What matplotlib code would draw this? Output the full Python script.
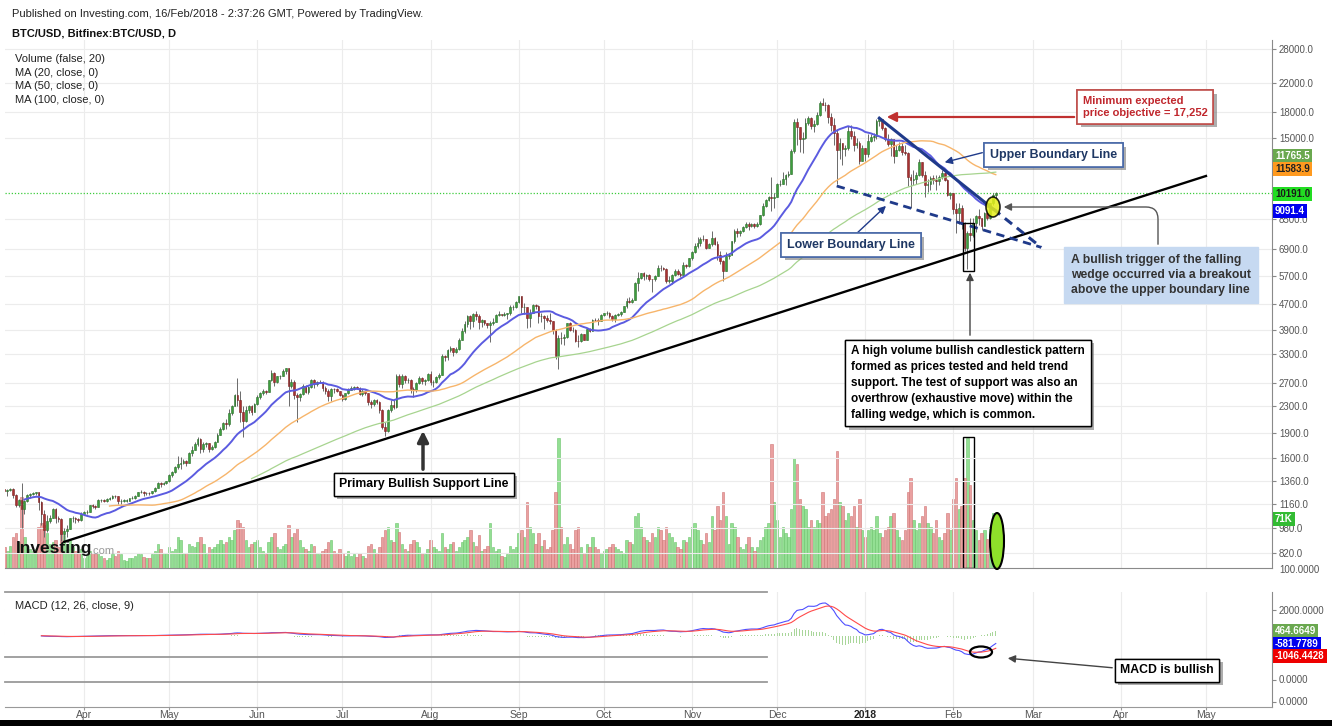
import numpy as np
import pandas as pd
import matplotlib
matplotlib.use('Agg')
import matplotlib.pyplot as plt
import matplotlib.dates as mdates
import matplotlib.patheffects as pe
from matplotlib.patches import Ellipse, Rectangle
from matplotlib.lines import Line2D

plt.rcParams['font.family'] = ['Liberation Sans', 'DejaVu Sans']

W, H = 1332, 726

# ---- daily BTC/USD (Bitfinex) ----
dates = pd.date_range('2017-02-20', '2018-02-16', freq='D')
first_open = 1050

close = [
    1080, 1125, 1120, 1180, 1170, 1150, 1175, 1190, 1188,  # Feb 20-28
    1225, 1285, 1285, 1265, 1275, 1280, 1230, 1150, 1190, 1115, 1180, 1230, 1240, 1245, 1255, 1170, 1075, 965, 1025, 1050, 1120, 1045, 1040, 935, 960, 970, 1045, 1045, 1040, 1035, 1080,
    1090, 1095, 1145, 1140, 1135, 1190, 1190, 1180, 1200, 1205, 1225, 1220, 1180, 1185, 1185, 1185, 1205, 1210, 1225, 1255, 1260, 1245, 1250, 1245, 1265, 1295, 1335, 1330, 1340, 1355,
    1420, 1450, 1500, 1530, 1540, 1560, 1540, 1650, 1690, 1760, 1820, 1700, 1760, 1770, 1700, 1720, 1790, 1880, 1950, 2040, 2020, 2180, 2300, 2480, 2400, 2200, 2070, 2240, 2300, 2210, 2330,
    2450, 2520, 2550, 2540, 2750, 2900, 2720, 2830, 2830, 2930, 2990, 2650, 2720, 2480, 2450, 2500, 2650, 2530, 2620, 2750, 2680, 2710, 2720, 2600, 2550, 2460, 2590, 2580, 2550, 2480,
    2420, 2510, 2570, 2610, 2620, 2610, 2500, 2560, 2510, 2370, 2330, 2400, 2360, 2230, 1980, 1930, 2230, 2320, 2280, 2840, 2680, 2830, 2760, 2760, 2580, 2570, 2700, 2800, 2730, 2760, 2880,
    2720, 2720, 2810, 2860, 3250, 3230, 3400, 3450, 3350, 3420, 3660, 3880, 4080, 4320, 4180, 4390, 4300, 4150, 4200, 4120, 4050, 4120, 4150, 4360, 4380, 4360, 4380, 4400, 4600, 4600, 4750,
    4950, 4600, 4600, 4250, 4420, 4650, 4640, 4320, 4320, 4250, 4200, 4160, 3900, 3250, 3700, 3690, 3720, 4100, 3920, 3900, 3630, 3620, 3800, 3660, 3930, 3890, 4210, 4200, 4180, 4350,
    4400, 4420, 4320, 4240, 4350, 4370, 4450, 4620, 4780, 4770, 4840, 5450, 5650, 5830, 5700, 5770, 5600, 5580, 5720, 6050, 6030, 6010, 5530, 5530, 5750, 5900, 5780, 5760, 6170, 6140, 6460,
    6750, 7060, 7170, 7410, 7380, 6960, 7130, 7460, 7140, 6600, 6350, 5900, 6550, 6600, 7300, 7830, 7710, 7800, 8050, 8240, 8100, 8240, 8100, 8230, 8750, 9300, 9750, 9900, 9850, 9950,
    10850, 10900, 11250, 11600, 11700, 13700, 16850, 16250, 14900, 15000, 16700, 17300, 16350, 16600, 17600, 19200, 18950, 18900, 17400, 16500, 15600, 13800, 14450, 13900, 14000, 15800, 15200, 14300, 14500, 12800, 14000,
    13400, 14750, 15150, 15200, 16900, 17150, 16150, 14900, 14400, 14900, 13250, 13850, 14200, 13600, 13500, 11400, 11150, 11250, 11550, 12700, 11550, 10800, 10850, 11350, 11200, 11100, 11400, 11750, 11200, 10100, 10200,
    9100, 8850, 9200, 8200, 6950, 7700, 7600, 8250, 8700, 8550, 8100, 8900, 8550, 9500, 10050, 10191,
]
high = [
    1090, 1130, 1135, 1195, 1210, 1180, 1180, 1200, 1210,
    1230, 1290, 1295, 1290, 1280, 1295, 1290, 1240, 1200, 1335, 1190, 1240, 1250, 1255, 1260, 1260, 1180, 1110, 1070, 1070, 1125, 1125, 1065, 1045, 980, 1000, 1050, 1065, 1055, 1050, 1090,
    1100, 1105, 1150, 1160, 1145, 1200, 1200, 1195, 1210, 1215, 1230, 1230, 1225, 1195, 1195, 1195, 1210, 1220, 1235, 1260, 1275, 1265, 1260, 1255, 1270, 1300, 1345, 1350, 1350, 1360,
    1430, 1460, 1510, 1620, 1610, 1580, 1570, 1660, 1730, 1780, 1850, 1830, 1780, 1790, 1775, 1750, 1800, 1900, 1980, 2060, 2100, 2250, 2320, 2500, 2800, 2550, 2300, 2300, 2320, 2320, 2350,
    2480, 2530, 2580, 2570, 2760, 2950, 2920, 2840, 2850, 2970, 3000, 2990, 2770, 2760, 2520, 2520, 2680, 2670, 2640, 2780, 2780, 2740, 2760, 2730, 2640, 2580, 2610, 2610, 2600, 2560,
    2500, 2520, 2600, 2640, 2640, 2640, 2620, 2580, 2570, 2520, 2400, 2420, 2420, 2380, 2250, 2060, 2250, 2400, 2400, 2880, 2880, 2870, 2860, 2800, 2780, 2620, 2720, 2830, 2820, 2780, 2900,
    2930, 2760, 2830, 2890, 3300, 3280, 3420, 3500, 3460, 3480, 3700, 3960, 4180, 4340, 4350, 4420, 4480, 4370, 4220, 4200, 4120, 4160, 4260, 4380, 4470, 4390, 4440, 4420, 4650, 4650, 4780,
    4980, 4960, 4730, 4600, 4530, 4700, 4690, 4660, 4400, 4350, 4350, 4400, 4160, 3950, 3770, 3870, 3800, 4120, 4130, 3990, 3930, 3780, 3830, 3800, 3980, 3980, 4230, 4260, 4250, 4370,
    4410, 4470, 4450, 4350, 4380, 4420, 4470, 4630, 4880, 4920, 4880, 5460, 5880, 5850, 5860, 5800, 5780, 5600, 5750, 6180, 6160, 6080, 6060, 5700, 5800, 5980, 6000, 5880, 6300, 6210, 6480,
    6800, 7200, 7480, 7500, 7600, 7410, 7200, 7800, 7500, 7320, 6800, 6400, 6750, 6720, 7320, 7960, 8000, 7900, 8100, 8320, 8350, 8300, 8260, 8350, 8760, 9500, 9800, 9990, 11400, 10200,
    10950, 11200, 11850, 11650, 11900, 13900, 17200, 17300, 16200, 15700, 17300, 17550, 17400, 17000, 18000, 19500, 19890, 19300, 19100, 17900, 17300, 15950, 15000, 14500, 14300, 16300, 16500, 15800, 15000, 14700, 14300,
    14000, 15400, 15450, 15500, 17200, 17252, 17150, 16200, 15400, 15000, 14900, 14300, 14600, 14500, 14300, 13600, 11700, 12000, 11800, 13000, 12700, 11900, 11300, 11500, 11600, 11600, 11600, 12000, 11850, 11300, 10300,
    10200, 9550, 9500, 9400, 8350, 7850, 8600, 8600, 8760, 9150, 8600, 8970, 8950, 9550, 10200, 10260,
]
low = [
    1040, 1075, 1100, 1120, 1100, 1110, 1130, 1165, 1170,
    1185, 1220, 1250, 1250, 1225, 1265, 1210, 1130, 1130, 980, 1080, 1170, 1210, 1230, 1235, 1110, 1000, 920, 950, 1015, 1045, 1015, 1020, 890, 890, 915, 970, 1020, 1015, 1020, 1030,
    1070, 1075, 1090, 1125, 1115, 1130, 1175, 1170, 1175, 1190, 1200, 1205, 1160, 1160, 1170, 1170, 1180, 1195, 1200, 1220, 1245, 1225, 1235, 1235, 1240, 1260, 1290, 1305, 1325, 1330,
    1350, 1400, 1440, 1480, 1480, 1530, 1510, 1545, 1620, 1690, 1740, 1650, 1660, 1720, 1660, 1690, 1710, 1780, 1870, 1940, 1960, 2000, 2150, 2300, 2300, 2050, 1850, 2050, 2190, 2150, 2200,
    2320, 2420, 2480, 2500, 2540, 2740, 2650, 2700, 2770, 2830, 2880, 2300, 2600, 2420, 2050, 2380, 2480, 2510, 2500, 2600, 2610, 2640, 2690, 2560, 2500, 2380, 2380, 2520, 2530, 2460,
    2380, 2400, 2500, 2580, 2570, 2580, 2480, 2470, 2480, 2320, 2260, 2300, 2330, 2180, 1960, 1860, 1920, 2200, 2250, 2270, 2620, 2600, 2690, 2700, 2520, 2450, 2530, 2680, 2680, 2660, 2740,
    2670, 2630, 2690, 2770, 2850, 3150, 3180, 3350, 3250, 3320, 3400, 3640, 3820, 4000, 3940, 4000, 4200, 3950, 4000, 4050, 3980, 3600, 4050, 4130, 4300, 4300, 4330, 4240, 4350, 4500, 4560,
    4720, 4420, 4380, 3980, 4000, 4400, 4520, 4100, 4150, 3950, 4150, 4080, 3800, 3200, 2980, 3550, 3520, 3700, 3880, 3860, 3600, 3480, 3600, 3650, 3660, 3860, 3880, 4160, 4050, 4160,
    4300, 4360, 4250, 4170, 4150, 4310, 4330, 4430, 4570, 4730, 4720, 4820, 5150, 5580, 5550, 5600, 5520, 5100, 5500, 5700, 5900, 5950, 5450, 5420, 5400, 5720, 5740, 5690, 5750, 6050, 6100,
    6380, 6700, 6930, 7030, 7280, 6920, 6930, 7040, 7100, 6400, 6210, 5500, 5900, 6450, 6600, 7170, 7500, 7550, 7750, 7990, 7900, 8050, 8000, 8030, 8150, 8700, 9280, 9650, 9000, 9200,
    9900, 10700, 10950, 10800, 11400, 11700, 13500, 14300, 13600, 13500, 14900, 16400, 16000, 15700, 16500, 17500, 18900, 18100, 16700, 15800, 14300, 10900, 13000, 12400, 13200, 13800, 14900, 13700, 14000, 12500, 12800,
    12800, 13150, 14600, 14650, 14950, 16300, 15900, 14700, 14200, 13200, 12600, 13200, 13750, 13300, 13300, 10700, 9200, 10800, 10900, 11500, 11400, 9950, 10300, 10400, 10900, 10400, 10800, 11300, 11100, 9980, 9800,
    8800, 7700, 8200, 7950, 6800, 6000, 7300, 7500, 7790, 8170, 7900, 8100, 8450, 8500, 9400, 9700,
]
volume_k = [
    25, 30, 28, 35, 40, 30, 22, 25, 28,
    40, 42, 48, 30, 25, 32, 45, 50, 38, 103, 45, 30, 28, 25, 28, 60, 65, 62, 50, 35, 38, 40, 30, 55, 48, 35, 40, 30, 25, 22, 28,
    15, 18, 25, 22, 20, 22, 18, 14, 12, 15, 20, 17, 25, 20, 12, 10, 14, 15, 18, 22, 20, 16, 14, 15, 20, 25, 35, 28, 22, 20,
    30, 25, 28, 45, 40, 20, 22, 35, 32, 30, 38, 45, 35, 20, 30, 28, 30, 35, 40, 35, 38, 45, 40, 55, 70, 65, 60, 40, 30, 35, 38,
    40, 30, 25, 20, 38, 45, 50, 30, 28, 32, 35, 62, 45, 50, 58, 40, 30, 28, 25, 35, 32, 22, 20, 25, 28, 38, 40, 25, 22, 28,
    22, 18, 25, 18, 20, 16, 22, 18, 15, 32, 35, 28, 22, 30, 45, 55, 60, 40, 38, 65, 52, 35, 28, 25, 35, 40, 38, 30, 22, 20, 28,
    40, 30, 28, 25, 50, 30, 28, 35, 38, 25, 30, 38, 40, 45, 55, 38, 32, 48, 25, 28, 32, 65, 30, 25, 28, 18, 16, 20, 32, 28, 30,
    50, 55, 45, 95, 60, 50, 35, 50, 32, 40, 28, 30, 55, 110, 188, 60, 35, 45, 35, 28, 55, 60, 30, 22, 35, 30, 45, 30, 28, 22,
    25, 28, 30, 35, 30, 28, 25, 22, 40, 38, 35, 75, 80, 60, 45, 40, 38, 50, 45, 60, 55, 40, 60, 50, 45, 38, 30, 28, 40, 38, 45,
    60, 65, 55, 40, 35, 50, 38, 75, 55, 90, 70, 110, 75, 35, 65, 60, 45, 30, 28, 35, 45, 30, 25, 30, 40, 45, 60, 65, 180, 95,
    70, 45, 60, 50, 45, 85, 160, 150, 100, 90, 85, 60, 70, 60, 70, 65, 110, 75, 80, 85, 100, 170, 95, 90, 70, 80, 75, 90, 60, 100, 55,
    45, 55, 60, 55, 75, 50, 45, 55, 60, 75, 80, 55, 45, 40, 55, 110, 130, 70, 55, 65, 75, 90, 65, 60, 50, 70, 45, 40, 50, 80, 55,
    100, 130, 85, 90, 130, 188, 120, 70, 55, 40, 50, 55, 42, 60, 80, 71,
]

price_ticks = [28000, 22000, 18000, 15000, 8500, 6900, 5700, 4700, 3900, 3300,
               2700, 2300, 1900, 1600, 1360, 1160, 980, 820]
month_ticks = ['2017-04-01', '2017-05-01', '2017-06-01', '2017-07-01', '2017-08-01',
               '2017-09-01', '2017-10-01', '2017-11-01', '2017-12-01', '2018-01-01',
               '2018-02-01', '2018-03-01', '2018-04-01', '2018-05-01']
month_labels = ['Apr', 'May', 'Jun', 'Jul', 'Aug', 'Sep', 'Oct', 'Nov', 'Dec', '2018',
                'Feb', 'Mar', 'Apr', 'May']

# ---- derived series ----
c = np.array(close, float)
o = np.r_[first_open, c[:-1]]
hi = np.maximum(np.array(high, float), np.maximum(o, c))
lo = np.minimum(np.array(low, float), np.minimum(o, c))
vol = np.array(volume_k, float)
up = c >= o

s = pd.Series(c, index=dates)
ma20 = s.rolling(20).mean()
ma50 = s.rolling(50).mean()
ma100 = s.rolling(100).mean()
macd = s.ewm(span=12, adjust=False).mean() - s.ewm(span=26, adjust=False).mean()
signal = macd.ewm(span=9, adjust=False).mean()
hist = macd - signal
macd[:25] = np.nan
signal[:25] = np.nan
hist[:25] = np.nan


def P(x, y):
    return (x / W, 1 - y / H)


fig = plt.figure(figsize=(W / 100, H / 100), dpi=100)
fig.patch.set_facecolor('white')

rect_main = [5 / W, 1 - 568 / H, 1267 / W, 528 / H]
ax_v = fig.add_axes(rect_main)
ax = fig.add_axes(rect_main, sharex=ax_v)
ax_m = fig.add_axes([5 / W, 1 - 707 / H, 1267 / W, 115 / H], sharex=ax_v)
ax.patch.set_alpha(0)

x0 = pd.Timestamp('2017-03-04 04:30')
x1 = pd.Timestamp('2018-05-24 06:00')

# volume (back layer)
ax_v.bar(dates[up], vol[up], width=0.85, color='#93df93', edgecolor='#6cc36c', linewidth=0.4)
ax_v.bar(dates[~up], vol[~up], width=0.85, color='#eaa0a0', edgecolor='#cf7474', linewidth=0.4)
ax_v.set_ylim(0, 765)
ax_v.set_xlim(x0, x1)
ax_v.axis('off')

# candles
ax.vlines(dates, lo, hi, color='#6a6a6a', lw=0.7, zorder=3)
body_lo = np.minimum(o, c)
body_h = np.maximum(np.abs(c - o), c * 0.002)
ax.bar(dates[up], body_h[up], bottom=body_lo[up], width=0.62, color='#3d9e3d', edgecolor='#2c6e2c', linewidth=0.4, zorder=4)
ax.bar(dates[~up], body_h[~up], bottom=body_lo[~up], width=0.62, color='#a83232', edgecolor='#7a2020', linewidth=0.4, zorder=4)

ax.plot(dates, ma20, color='#5b5be0', lw=1.4, zorder=5)
ax.plot(dates, ma50, color='#f7b56b', lw=1.0, zorder=5)
ax.plot(dates, ma100, color='#a7d48f', lw=0.9, zorder=5)
ax.axhline(close[-1], color='#3ccc3c', lw=0.9, ls=(0, (1, 1.5)), zorder=2)

ax.set_yscale('log')
ax.set_ylim(738.6, 29823)
ax.set_xlim(x0, x1)
ax.yaxis.tick_right()
ax.set_yticks(price_ticks)
ax.set_yticklabels([f'{t:.1f}' for t in price_ticks])
ax.yaxis.set_minor_locator(matplotlib.ticker.NullLocator())
ax.tick_params(axis='y', labelsize=7, labelcolor='#555555', color='#888888', length=3, width=0.8, pad=2)
ax.tick_params(axis='x', length=0, labelbottom=False)
ax.set_xticks(pd.to_datetime(month_ticks))
ax.grid(True, color='#ececec', lw=0.8, zorder=0)
for sp in ['top', 'left']:
    ax.spines[sp].set_visible(False)
ax.spines['right'].set_color('#8a8a8a')
ax.spines['bottom'].set_color('#8a8a8a')

# support & wedge lines
ax.plot(pd.to_datetime(['2017-03-25', '2018-05-01']), [887, 11505], color='black', lw=1.7, zorder=6)
d_up = mdates.date2num(pd.to_datetime(['2018-01-06', '2018-03-04']))
p_up = [17252, 6980]
d_brk = mdates.date2num(pd.Timestamp('2018-02-15'))
p_brk = np.exp(np.interp(d_brk, d_up, np.log(p_up)))
ax.plot([d_up[0], d_brk], [p_up[0], p_brk], color='#1f3a8a', lw=2.2, zorder=6)
ax.plot([d_brk, d_up[1]], [p_brk, p_up[1]], color='#1f3a8a', lw=2.2, ls=(0, (3, 2)), zorder=6)
ax.plot(pd.to_datetime(['2017-12-22', '2018-03-04']), [10727, 6980], color='#1f3a8a', lw=2.0,
        ls=(0, (3, 2)), zorder=6)

r0 = mdates.date2num(pd.Timestamp('2018-02-04 14:00'))
r1 = mdates.date2num(pd.Timestamp('2018-02-08 12:00'))
ax.add_patch(Rectangle((r0, 5914), r1 - r0, 8280 - 5914, fill=False, ec='black', lw=1.0, zorder=7))
ax_v.add_patch(Rectangle((r0, 0), r1 - r0, 190, fill=False, ec='black', lw=1.0, zorder=7))

# MACD pane
ax_m.bar(dates, hist, width=0.35, color='#a9d69a', zorder=2)
ax_m.plot(dates, macd, color='#4f4fff', lw=0.8, zorder=3)
ax_m.plot(dates, signal, color='#ff4a4a', lw=0.8, zorder=3)
ax_m.set_ylim(-5467, 3388)
ax_m.set_xlim(x0, x1)
ax_m.yaxis.tick_right()
ax_m.set_yticks([2000, 300, -3400, -5100])
ax_m.set_yticklabels(['2000.0000', '', '', ''])
ax_m.tick_params(axis='y', labelsize=7, labelcolor='#555555', color='#888888', length=3, pad=2)
ax_m.set_xticks(pd.to_datetime(month_ticks))
ax_m.set_xticklabels(month_labels)
ax_m.tick_params(axis='x', labelsize=7.5, labelcolor='#555555', color='#999999', length=2, pad=0.5)
for lab in ax_m.get_xticklabels():
    if lab.get_text() == '2018':
        lab.set_fontweight('bold')
        lab.set_color('#222222')
ax_m.grid(True, axis='x', color='#ececec', lw=0.8, zorder=0)
ax_m.spines['top'].set_visible(False)
ax_m.spines['left'].set_visible(False)
ax_m.spines['right'].set_color('#8a8a8a')
ax_m.spines['bottom'].set_color('#999999')
for yy in [592, 657, 682]:
    fig.add_artist(Line2D([5 / W, 767 / W], [1 - yy / H] * 2, color='#9a9a9a', lw=1.3))
for yy in [610, 633]:
    fig.add_artist(Line2D([5 / W, 1272 / W], [1 - yy / H] * 2, color='#f0f0f0', lw=0.8, zorder=0))

# header and legends
fig.text(*P(12, 14), 'Published on Investing.com, 16/Feb/2018 - 2:37:26 GMT, Powered by TradingView.',
         fontsize=8, color='#222222', va='center')
fig.text(*P(12, 33), 'BTC/USD, Bitfinex:BTC/USD, D', fontsize=8, fontweight='bold', color='#111111', va='center')
for yy, s_ in zip([59, 73, 86, 100], ['Volume (false, 20)', 'MA (20, close, 0)', 'MA (50, close, 0)', 'MA (100, close, 0)']):
    fig.text(*P(15, yy), s_, fontsize=8, color='#222222', va='center')
fig.text(*P(15, 606), 'MACD (12, 26, close, 9)', fontsize=8, color='#222222', va='center')
fig.text(*P(16, 549), 'Investing', fontsize=12.5, fontweight='bold', color='#111111', va='center')
fig.text(*P(90, 551), '.com', fontsize=8, color='#9a9a9a', va='center')

# right-side value tags
def tag(y, s_, fc, tc='white'):
    fig.text(*P(1275, y), s_, fontsize=7, fontweight='bold', color=tc, va='center', ha='left',
             bbox=dict(boxstyle='square,pad=0.22', fc=fc, ec='none'))

tag(156, '11765.5', '#6aa84f')
tag(169, '11583.9', '#ff9a1f', '#222222')
tag(194, '10191.0', '#22dd22', '#1a1a1a')
tag(211, '9091.4', '#0000ee')
tag(519, '71K', '#33bb33')
tag(631, '464.6649', '#6aa84f')
tag(644, '-581.7789', '#0000ee')
tag(656, '-1046.4428', '#ee0000')
for yy, s_ in [(570, '100.0000'), (680, '0.0000'), (702, '0.0000')]:
    fig.text(*P(1279, yy), s_, fontsize=7, color='#555555', va='center')


# callout boxes
def box(x, y, s_, fs=8.5, color='black', fc='white', ec='black', lw=1.0, shadow=True, pad=0.45, ls=1.3):
    t = fig.text(*P(x, y), s_, fontsize=fs, fontweight='bold', color=color, ha='left', va='center',
                 linespacing=ls, bbox=dict(boxstyle=f'square,pad={pad}', fc=fc, ec=ec, lw=lw), zorder=10)
    if shadow:
        t.get_bbox_patch().set_path_effects([
            pe.withSimplePatchShadow(offset=(2.5, -2.5), shadow_rgbFace='#777777', alpha=0.6), pe.Normal()])
    return t


def arrow(xa, ya, xb, yb, color, lw=1.0, ms=10, style='-|>', cs='arc3'):
    fig.add_artist(matplotlib.patches.FancyArrowPatch(
        P(xa, ya), P(xb, yb), transform=fig.transFigure, arrowstyle=style, color=color, lw=lw,
        mutation_scale=ms, connectionstyle=cs, zorder=9))


box(1083, 107, 'Minimum expected\nprice objective = 17,252', fs=8, color='#c0272d', ec='#c0504d', lw=1.2,
    pad=0.5, ls=1.25)
arrow(1077, 117, 884, 117, '#c0302f', lw=1.6, ms=14)

box(990, 155, 'Upper Boundary Line', fs=9, color='#1f3864', ec='#4a6aa8', lw=1.2)
arrow(985, 152, 942, 163, '#1f3a8a', lw=1.0, ms=11)

box(787, 245, 'Lower Boundary Line', fs=9, color='#1f3864', ec='#4a6aa8', lw=1.2)
arrow(855, 235, 888, 204, '#1f3a8a', lw=1.0, ms=11)

box(1071, 275, 'A bullish trigger of the falling\nwedge occurred via a breakout\nabove the upper boundary line',
    fs=8.8, color='#333333', fc='#c6d9f1', ec='#c6d9f1', shadow=False, pad=0.6)
arrow(1158, 247, 1001, 207, '#555555', lw=1.0, ms=11, cs='angle,angleA=90,angleB=0,rad=12')

box(851, 383, 'A high volume bullish candlestick pattern\nformed as prices tested and held trend\n'
    'support. The test of support was also an\noverthrow (exhaustive move) within the\n'
    'falling wedge, which is common.', fs=8.5, ls=1.42, pad=0.5)
arrow(970, 338, 970, 270, '#444444', lw=1.0, ms=11)

box(339, 484, 'Primary Bullish Support Line', fs=8.8)
arrow(423, 472, 423, 428, '#333333', lw=2.5, ms=16)

box(1120, 670, 'MACD is bullish', fs=8.8)
arrow(1115, 668, 1005, 658, '#444444', lw=1.0, ms=11)

# highlight ellipses
fig.add_artist(Ellipse(P(993, 207), 14 / W, 20 / H, transform=fig.transFigure, fc='#e5ee1a', ec='black',
                       lw=1.2, alpha=0.85, zorder=8))
fig.add_artist(Ellipse(P(997, 541), 14 / W, 56 / H, transform=fig.transFigure, fc='#8ee02a', ec='black',
                       lw=1.5, zorder=8))
fig.add_artist(Ellipse(P(981, 652), 22 / W, 11 / H, transform=fig.transFigure, fill=False, ec='black',
                       lw=1.6, zorder=8))

# black strip along the bottom edge
fig.add_artist(Rectangle((0, 0), 1, 6 / H, transform=fig.transFigure, fc='black', ec='none', zorder=20))

fig.savefig('out.png', dpi=100, facecolor='white')
